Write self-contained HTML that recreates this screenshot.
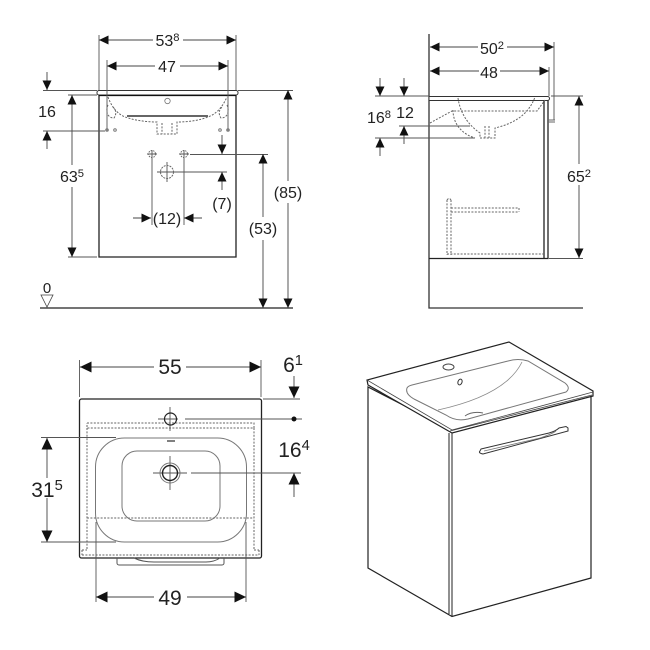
<!DOCTYPE html>
<html><head><meta charset="utf-8"><style>
html,body{margin:0;padding:0;background:#fff}
svg{display:block}
text{font-family:"Liberation Sans",sans-serif;fill:#222;text-anchor:middle}
tspan.s{font-size:70%}
.d{stroke:#555;stroke-width:.9;fill:none}
.k{stroke:#222;stroke-width:1.3;fill:none}
.h{stroke:#666;stroke-width:1;fill:none;stroke-dasharray:2 1.4}
.a{stroke:#444;stroke-width:.9;fill:none;marker-end:url(#m)}
.e{stroke:#444;stroke-width:.9;fill:none;marker-end:url(#n)}
</style></head><body>
<svg width="650" height="650" viewBox="0 0 650 650" xmlns="http://www.w3.org/2000/svg">
<defs>
<marker id="m" markerUnits="userSpaceOnUse" markerWidth="11" markerHeight="10" refX="9.500" refY="4.500" orient="auto"><path d="M0 0L9.500 4.500L0 9Z" fill="#111"/></marker>
<marker id="n" markerUnits="userSpaceOnUse" markerWidth="13" markerHeight="12" refX="11.500" refY="5.500" orient="auto"><path d="M0 0L11.500 5.500L0 11Z" fill="#111"/></marker>
</defs>

<!-- FRONT VIEW -->
<path class="k" d="M99 95V257H236V95"/>
<rect x="97" y="90.500" width="141" height="4.500" rx="2" fill="#fff" stroke="#333"/>
<path d="M99 95.500H236" stroke="#111" stroke-width="1.200"/>
<path class="d" d="M99 35V90M236 35V90M107 60V131M228 60V131M43 90.500H97M238 90.500H293M68 95H97M68 257H97M43 131H105M190 154.500H268M160 172H227"/>
<path d="M40 308H293" stroke="#222" stroke-width="1.200"/>
<path class="d" d="M152 150V225M184 150V225M167 162V182M157 172H177M147 154H157M179 154H189"/>
<path class="a" d="M153 40H99"/><path class="a" d="M183 40H236"/>
<path class="a" d="M155 66H107"/><path class="a" d="M180 66H228"/>
<path class="a" d="M47 72V90"/><path class="a" d="M47 149V131"/>
<path class="a" d="M72 165V95"/><path class="a" d="M72 187V257"/>
<path class="a" d="M288 181V90"/><path class="a" d="M288 203V308"/>
<path class="a" d="M263 217V154"/><path class="a" d="M263 240V308"/>
<path class="a" d="M222 135V154"/><path class="a" d="M222 190V172"/>
<path class="a" d="M133 218H151"/><path class="a" d="M202 218H184"/>
<path class="h" d="M108 97C112 108 118 114 125 117Q140 122 157 122V134H177V122Q195 122 208 117C216 114 222 108 227 97"/>
<path class="h" d="M162 123V134M172 123V134M108 105C105 112 108 118 114 118Q118 112 113 107M227 105C230 112 227 118 221 118Q217 112 222 107"/>
<path d="M127 116H208" stroke="#666" stroke-width="2"/>
<circle cx="167.500" cy="101" r="2.700" fill="none" stroke="#777" stroke-width=".8"/>
<circle cx="152" cy="154" r="3.500" class="h" style="stroke-dasharray:1.500 1"/><circle cx="184" cy="154" r="3.500" class="h" style="stroke-dasharray:1.500 1"/>
<circle cx="167" cy="172" r="6.500" class="h" style="stroke-dasharray:2 1"/>
<circle cx="107" cy="130" r="1.300" fill="none" stroke="#777"/><circle cx="115" cy="130" r="1.300" fill="none" stroke="#777"/><circle cx="220" cy="130" r="1.300" fill="none" stroke="#777"/><circle cx="228" cy="130" r="1.300" fill="none" stroke="#777"/>
<path d="M41 295H53L47 307Z" fill="#fff" stroke="#444" stroke-width=".8"/>
<text x="167.500" y="46" font-size="16">53<tspan class="s" dy="-5">8</tspan></text>
<text x="167" y="72" font-size="16">47</text>
<text x="47" y="117" font-size="16">16</text>
<text x="72" y="182" font-size="16">63<tspan class="s" dy="-5">5</tspan></text>
<text x="288" y="198" font-size="16">(85)</text>
<text x="263" y="234" font-size="16">(53)</text>
<text x="222" y="209" font-size="16">(7)</text>
<text x="167" y="224" font-size="16">(12)</text>
<text x="47" y="293" font-size="15">0</text>

<!-- SIDE VIEW -->
<path d="M429 34V308H583" stroke="#333" stroke-width="1.300" fill="none"/>
<path class="k" d="M429 100H544V258.500H429M544 100V258.500M548 100V258.500H544"/>
<path d="M429 96.500H547.500a2 2 0 0 1 0 4H429Z" fill="#fff" stroke="#333"/>
<path class="d" d="M375 96H429M551 96H583M549 258.500H583M399 126H470M375 138H475M554 42V120M549 67V96"/>
<path d="M548 120H555M548 122H555" stroke="#666" stroke-width="1"/>
<path class="a" d="M478 47H430"/><path class="a" d="M507 47H554"/>
<path class="a" d="M479 71H430"/><path class="a" d="M500 71H549"/>
<path class="a" d="M579 164V96"/><path class="a" d="M579 185V258"/>
<path class="a" d="M380 78V96"/><path class="a" d="M404 78V96"/>
<path class="a" d="M380 156V138"/><path class="a" d="M404 144V126"/>
<path class="h" d="M458 98C460 112 467 124 480 133V138H495V128C512 124 528 116 535 97M453 110C453 124 462 134 475 138M430 123L452 111H537L545 100M485 126V138M489 126V138"/>
<path class="h" d="M447 200V255M451 200V255M447 200Q449 197 451 200M451 208H519M451 212H519M519 208V212M447 254H544"/>
<text x="492" y="54" font-size="16">50<tspan class="s" dy="-5">2</tspan></text>
<text x="489" y="78" font-size="16">48</text>
<text x="405" y="118" font-size="16">12</text>
<text x="379" y="123" font-size="16">16<tspan class="s" dy="-5">8</tspan></text>
<text x="579" y="182" font-size="16">65<tspan class="s" dy="-5">2</tspan></text>

<!-- TOP VIEW -->
<rect x="79.500" y="399" width="182" height="159" rx="2" fill="#fff" stroke="#222" stroke-width="1.300"/>
<path d="M117 558V563a2 2 0 0 0 2 2H222a2 2 0 0 0 2-2V558M134 558Q142 562 154 562H206Q214 562 220 558" stroke="#555" fill="none"/>
<rect x="95.500" y="438" width="151" height="104" rx="29" fill="#fff" stroke="#777"/>
<rect x="122" y="451" width="98" height="70" rx="15" fill="none" stroke="#777"/>
<path class="h" d="M87 423H254V428H87V423M254 428V550M87 428V550M87 518H254M82 550H87M254 550H259M82 555H259M82 550V555M259 550V555"/>
<path class="d" d="M79.500 360V397M261 360V397M263 399H300M185 419H302M191 473H301M41 437.500H116M41 542H116M96 522V602M246 522V602M170 407V431M158 419H178M170 456V490M153 473H187"/>
<circle cx="170.500" cy="419" r="6" fill="none" stroke="#222" stroke-width="1.200"/>
<circle cx="170" cy="473" r="7.500" fill="none" stroke="#222" stroke-width="1.400"/>
<circle cx="170" cy="473" r="10" fill="none" stroke="#777"/>
<path d="M167 441H175" stroke="#555" stroke-width="1.500"/>
<circle cx="294" cy="419" r="2.500" fill="#111"/>
<path class="e" d="M154 367H80"/><path class="e" d="M186 367H261"/>
<path class="e" d="M294 376V398"/><path class="e" d="M294 497V473"/>
<path class="e" d="M47 478V438"/><path class="e" d="M47 498V542"/>
<path class="e" d="M154 597H96"/><path class="e" d="M187 597H246"/>
<text x="170" y="374" font-size="21">55</text>
<text x="293" y="372" font-size="21">6<tspan class="s" dy="-7">1</tspan></text>
<text x="294" y="457" font-size="21">16<tspan class="s" dy="-7">4</tspan></text>
<text x="47" y="497" font-size="21">31<tspan class="s" dy="-7">5</tspan></text>
<text x="170" y="605" font-size="21">49</text>

<!-- ISOMETRIC -->
<path d="M368 387V568L452 616.500L591 578V395L452 430Z" fill="#fff" stroke="#222" stroke-width="1.200"/>
<path d="M449 433V614M452 432V616" stroke="#222" stroke-width="1"/>
<path d="M509 342L593 391V396L452 433L368 385L367 380Z" fill="#fff" stroke="#222" stroke-width="1.200"/>
<path d="M367 380L452 430L593 392M450 431L592 395" stroke="#444" stroke-width=".8" fill="none"/>
<path d="M407 388Q408 386 412 385L508 361Q518 358 528 361L565 383Q571 388 566 392L468 419Q456 422 446 415L414 399Q405 394 407 388Z" fill="none" stroke="#777"/>
<path d="M522 362Q506 395 438 410" fill="none" stroke="#888" stroke-width=".8"/>
<path d="M465 416Q472 411 483 413" fill="none" stroke="#666"/>
<ellipse cx="448.500" cy="367" rx="5.500" ry="3" fill="none" stroke="#444"/>
<ellipse cx="460" cy="382" rx="2" ry="3" fill="none" stroke="#333" transform="rotate(20 460 382)"/>
<path d="M481 449L549 433Q556 431 559 428L566 426.500L568 428V431L483 454Q478 453 480 451Z" fill="#fff" stroke="#333"/>
<path d="M484 451L540 438Q552 434 556 431" fill="none" stroke="#777" stroke-width=".8"/>
</svg>
</body></html>
